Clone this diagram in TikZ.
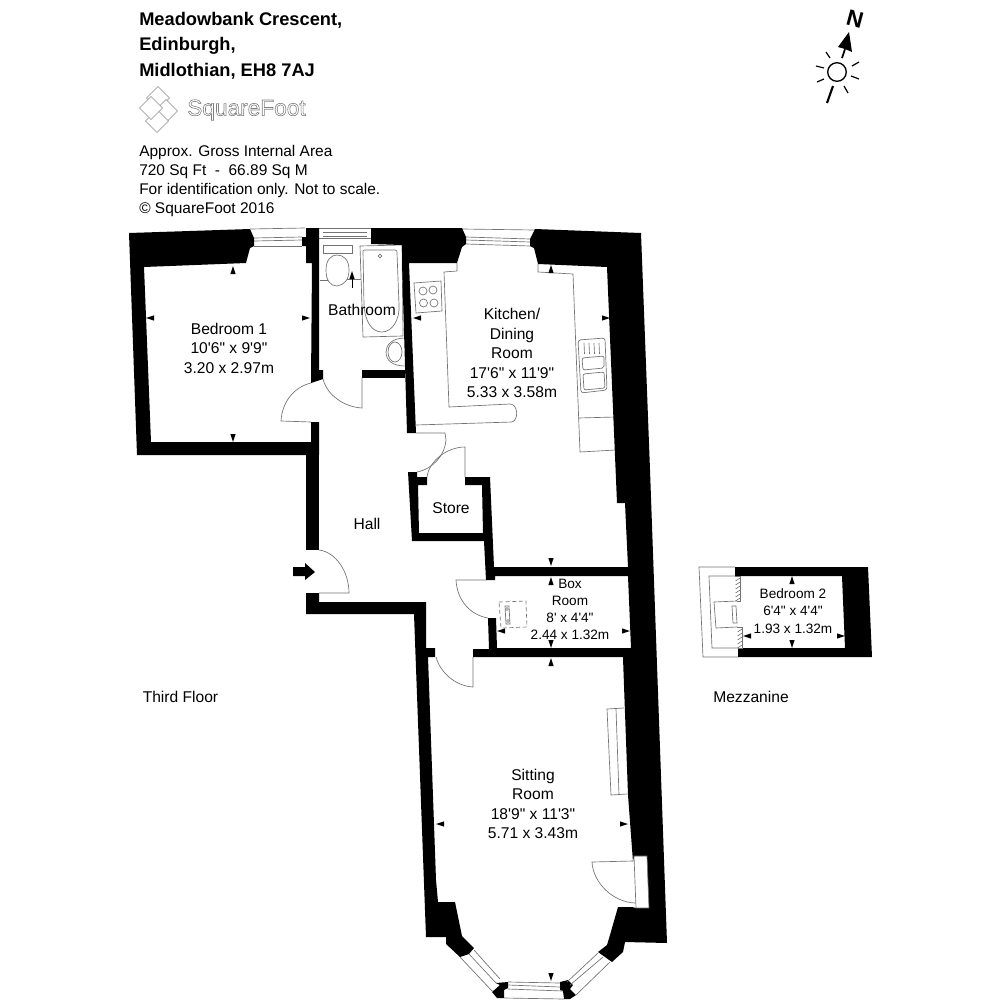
\documentclass[tikz,border=0pt]{standalone}
\usepackage{fontspec}
\setmainfont{Liberation Sans}[Ligatures=TeXOff]
\newcommand\tk[3]{\fill[shift={(#1,#2)},rotate=#3] (0,0) -- (-8,2.6) -- (-8,-2.6) -- cycle;}
\tikzset{
  wall/.style={fill=black,draw=none},
  thin line/.style={draw=black!55,line width=0.5pt},
  label/.style={inner sep=0,align=center,font=\fontsize{11.7}{14.6}\selectfont},
  small label/.style={inner sep=0,align=center,font=\fontsize{10.2}{12.9}\selectfont},
  title/.style={inner sep=0,anchor=west,align=left,font=\fontsize{13.7}{19.1}\selectfont\bfseries},
  info/.style={inner sep=0,anchor=west,align=left,font=\fontsize{11.6}{14.3}\selectfont},
  logo/.style={draw=black!45,fill=white,line width=0.5pt}
}
\begin{document}
\begin{tikzpicture}[x=0.75pt,y=-0.75pt]
\useasboundingbox (0,0) rectangle (1000,1000);
\fill[white] (0,0) rectangle (1000,1000);

% ---------- fixtures (under the walls)
% kitchen worktop
\draw[thin line] (457,263) -- (457,271) -- (444,272) -- (449,407) -- (510,404)
  .. controls (518,404) and (519,420) .. (512,422) -- (416,425);
\draw[thin line] (538,264) -- (538,272) -- (573,274) -- (580,452) -- (616,450);
\draw[thin line] (578,418) -- (616,417);
% hob
\draw[thin line] (414,283) -- (441,281) -- (442,311) -- (416,313) -- cycle;
\foreach \cx/\cy in {423/291,433/290,423.5/303,434/303}{\draw[thin line] (\cx,\cy) circle (4);}
% sink
\draw[thin line,rounded corners=2] (578,340) -- (605,338) -- (607,390) -- (581,393) -- cycle;
\draw[thin line,rounded corners=1.5] (582,358) -- (604,356) -- (604,368) -- (583,370) -- cycle;
\draw[thin line,rounded corners=1.5] (583,374) -- (604,372) -- (605,388) -- (584,390) -- cycle;
\foreach \sx in {584,589,594,599}{\draw[thin line] (\sx,343) -- (\sx+0.5,354);}
% bathroom
\draw[thin line] (360,246) -- (402,245) -- (403,336) -- (363,337) -- cycle;
\draw[thin line] (363,251) .. controls (363,250) and (364,250) .. (365,250) -- (395,250)
  .. controls (397,250) and (397,251) .. (397,253) -- (399,305)
  .. controls (400,320) and (392,332) .. (382,332)
  .. controls (372,332) and (365,322) .. (364,305) -- cycle;
\draw[thin line] (380,256) circle (1.8);
\draw[thin line] (323,245) -- (352,245) -- (352,253) -- (323,253) -- cycle;
\draw[thin line] (326,253) -- (349,253);
\draw[thin line] (337,286) .. controls (330,286) and (326,280) .. (326,270)
  .. controls (326,260) and (331,255) .. (337,255)
  .. controls (344,255) and (349,260) .. (349,270)
  .. controls (349,280) and (344,285) .. (337,286) -- cycle;
\draw[thin line] (320,280) -- (328,280);
\draw[thin line] (347,279) -- (361,279);
\draw[thin line] (405,338) .. controls (392,338) and (386,345) .. (386,352)
  .. controls (386,360) and (392,366) .. (405,366);
\draw[thin line] (395,352) ellipse (7 and 10);
\draw[line width=0.5pt,black] (352,288) -- (352,278);
\tk{352}{271}{90}
% radiator, sitting room
\draw[thin line] (607,709) -- (624,708);
\draw[thin line] (607,709) -- (611,795) -- (627,794);
\draw[thin line] (616,709) -- (619,795);
% box room tank
\draw[thin line,densely dashed] (499,602) -- (526,601) -- (527,627) -- (501,628) -- cycle;
\draw[thin line] (505,606) -- (509,606) -- (510,624) -- (506,624) -- cycle;
\draw[thin line] (507,609) circle (1.5);
\draw[thin line] (508,621) circle (1.5);

% ---------- windows
\draw[thin line] (250,229) -- (305,228);
\draw[thin line] (254,238) -- (302,237);
\draw[thin line] (254,241) -- (302,240);
\draw[thin line] (254,246) -- (302,246);
\draw[thin line] (319,228) -- (371,228);
\draw[thin line] (323,232) -- (367,232);
\draw[thin line] (323,236) -- (367,236);
\draw[thin line] (319,238) -- (371,238);
\draw[thin line] (462,229) -- (535,230);
\draw[thin line] (466,237) -- (530,239);
\draw[thin line] (466,240) -- (530,242);
\draw[thin line] (466,244) -- (530,246);

% ---------- walls
% bedroom 1
\path[wall] (129,233) -- (250,229) -- (254,238) -- (254,246) -- (250,248) -- (246,263) -- (144,267)
  -- (151,442) -- (311,442) -- (311,422) -- (319,422) -- (319,455) -- (137,455) -- cycle;
% hall left wall
\path[wall] (306,455) rectangle (319,550);
% wall bedroom/bathroom
\path[wall] (306,228) -- (319,228) -- (319,370) -- (323,370) -- (323,379) -- (311,383) -- (312,263)
  -- (306,263) -- (306,246) -- (302,246) -- (302,237) -- (306,237) -- cycle;
% hall bottom to sitting room left
\path[wall] (306,593) -- (319,593) -- (319,602) -- (426,602) -- (426,648) -- (435,648) -- (435,657)
  -- (428,657) -- (436,880) -- (438,902) -- (455,902) -- (462,936) -- (474,948) -- (469,954)
  -- (460,957) -- (446,944) -- (446,937) -- (426,937) -- (414,614) -- (306,614) -- cycle;
% top wall over kitchen
\path[wall] (371,228) -- (462,228) -- (466,237) -- (466,244) -- (462,247) -- (457,263) -- (409,263)
  -- (416,433) -- (407,433) -- (402,263) -- (402,245) -- (371,244) -- cycle;
% bathroom bottom
\path[wall] (362,370) -- (405,370) -- (405,378) -- (362,378) -- cycle;
% right outer wall
\path[wall] (535,229) -- (641,233) -- (650,470) -- (667,943) -- (625,942) -- (623,952) -- (612,962)
  -- (598,952) -- (607,945) -- (610,935) -- (618,907) -- (632,907) -- (636,908) -- (649,908)
  -- (647,856) -- (634,856) -- (633,862) -- (628,795) -- (623,658) -- (623,657) -- (473,657) -- (473,649)
  -- (489,649) -- (488,618) -- (496,618) -- (497,648) -- (631,648) -- (628,576) -- (495,576)
  -- (495,580) -- (486,580) -- (484,541) -- (412,541) -- (408,472) -- (417,472) -- (417,477)
  -- (427,477) -- (427,485) -- (418,485) -- (419,533) -- (483,533) -- (482,485) -- (465,485)
  -- (465,477) -- (490,477) -- (494,567) -- (628,567) -- (625,503) -- (617,503) -- (607,267)
  -- (538,264) -- (534,248) -- (530,246) -- (530,239) -- cycle;
% bay piers
\path[wall] (496,983) -- (508,982) -- (508,988) -- (504,990) -- (504,998) -- (497,998) -- (492,992) -- (500,985) -- cycle;
\path[wall] (560,982) -- (568,980) -- (573,985) -- (570,989) -- (576,995) -- (570,999) -- (564,999) -- (563,991) -- (560,990) -- cycle;

% ---------- bay window
\draw[thin line] (460,957) -- (493,992);
\draw[thin line] (469,954) -- (497,984);
\draw[thin line] (474,950) -- (500,979);
\draw[thin line] (508,982) -- (560,983);
\draw[thin line] (508,985) -- (560,987);
\draw[thin line] (508,989) -- (563,991);
\draw[thin line] (504,998) -- (564,999);
\draw[thin line] (567,982) -- (598,953);
\draw[thin line] (570,985) -- (603,957);
\draw[thin line] (576,995) -- (610,962);

% ---------- doors
\draw[thin line] (311,383) .. controls (294,387) and (282,402) .. (281,421) -- (311,422);
\draw[thin line] (323,379) .. controls (327,395) and (344,407) .. (362,408) -- (362,378);
\draw[thin line] (416,433) -- (445,433) -- (446,440) .. controls (445,455) and (433,469) .. (417,472);
\draw[thin line] (427,477) .. controls (429,461) and (447,447) .. (465,447) -- (465,477);
\draw[thin line] (319,550) .. controls (336,552) and (349,572) .. (349,593) -- (319,593);
\draw[thin line] (486,580) -- (456,580) .. controls (457,600) and (470,615) .. (488,618);
\draw[thin line] (436,657) .. controls (440,672) and (455,686) .. (473,687) -- (473,657);
\draw[thin line] (633,861) -- (592,862) .. controls (593,882) and (612,902) .. (635,903);
\draw[thin line] (634,856) -- (647,856) -- (649,908) -- (636,908) -- cycle;
\fill (293,567) -- (305,567) -- (305,563) -- (315,572) -- (305,580) -- (305,576) -- (293,576) -- cycle;

% ---------- mezzanine
\path[wall] (735,567) -- (868,567) -- (872,657) -- (738,657) -- (738,648) -- (845,648) -- (842,576) -- (735,576) -- cycle;
\draw[thin line] (735,567) -- (699,567) -- (703,657) -- (738,657);
\draw[thin line] (735,576) -- (709,576) -- (712,648) -- (738,648);
\draw[thin line] (714,602) -- (737,601);
\draw[thin line] (714,602) -- (716,628) -- (737,627);
\draw[thin line] (732,606) -- (736,606) -- (737,623) -- (733,623) -- cycle;
\draw[thin line] (735,576) -- (740,576) -- (740,601) -- (737,601);
\draw[thin line] (737,627) -- (742,627) -- (742,648) -- (738,648);
\foreach \hy in {578,582,...,598}{\draw[black!60,line width=0.4pt] (735.5,\hy+3) -- (740,\hy);}
\foreach \hy in {629,633,...,645}{\draw[black!60,line width=0.4pt] (737.5,\hy+3) -- (742,\hy);}

% ---------- dimension ticks
\tk{233}{266}{90}  \tk{233}{442}{-90} \tk{146}{318}{180} \tk{310}{318}{0}
\tk{413}{318}{180} \tk{610}{318}{0}   \tk{551}{265}{90}
\tk{551}{566}{-90} \tk{551}{577}{90}  \tk{497}{631}{180} \tk{630}{631}{0}
\tk{551}{648}{-90} \tk{551}{658}{90}
\tk{436}{824}{180} \tk{628}{824}{0}   \tk{551}{981}{-90}
\tk{792}{576}{90}  \tk{792}{648}{-90} \tk{743}{636}{180} \tk{845}{636}{0}

% ---------- texts
\node[title] (addr) at (139,45.5) {Meadowbank Crescent,\\Edinburgh,\\Midlothian, EH8 7AJ};
\node[info] (area) at (139,181) {Approx. Gross Internal Area\\720 Sq Ft\ \ -\ \ 66.89 Sq M\\For identification only. Not to scale.\\© SquareFoot 2016};
\node[label] (bed1) at (229,348) {Bedroom 1\\10'6" x 9'9"\\3.20 x 2.97m};
\node[label] (bath) at (362,310) {Bathroom};
\node[label] (kit) at (512,353) {Kitchen/\\Dining\\Room\\17'6" x 11'9"\\5.33 x 3.58m};
\node[label] (hall) at (367,524) {Hall};
\node[label] (store) at (451,508) {Store};
\node[small label] (box) at (570,609.5) {Box\\Room\\8' x 4'4"\\2.44 x 1.32m};
\node[label] (sit) at (533,804) {Sitting\\Room\\18'9" x 11'3"\\5.71 x 3.43m};
\node[small label] (bed2) at (793,611) {Bedroom 2\\6'4" x 4'4"\\1.93 x 1.32m};
\node[label] (third) at (180.5,697) {Third Floor};
\node[label] (mezz) at (751,697) {Mezzanine};

% ---------- logo
\foreach \lx/\ly in {158/98,166/111,157/121,151/108}{
  \draw[logo] (\lx,\ly-11.5) -- (\lx+11.5,\ly) -- (\lx,\ly+11.5) -- (\lx-11.5,\ly) -- cycle;}
\node[inner sep=0,text=black!50,font=\fontsize{17}{17}\selectfont] (sq) at (246.5,110)
  {\special{pdf:code 1 Tr 0.45 w}SquareFoot\special{pdf:code 0 Tr}};

% ---------- compass
\node[inner sep=0,rotate=-15,font=\fontsize{17}{17}\selectfont\bfseries] (north) at (855,19) {N};
\fill (849,32) -- (852,52) -- (845,49) -- (838,47) -- cycle;
\draw[line width=1.3pt] (845,49) -- (842,58);
\draw[line width=1pt] (837,72) circle (9.3);
\draw[line width=1.6pt] (833,86) -- (827,103);
\foreach \ra/\rb/\rc/\rd in {826/52/830/58,816/66/824/68,817/82/824/79,844/86/848/93,851/76/859/79,852/66/859/62}{
  \draw[line width=0.9pt] (\ra,\rb) -- (\rc,\rd);}
\end{tikzpicture}
\end{document}
